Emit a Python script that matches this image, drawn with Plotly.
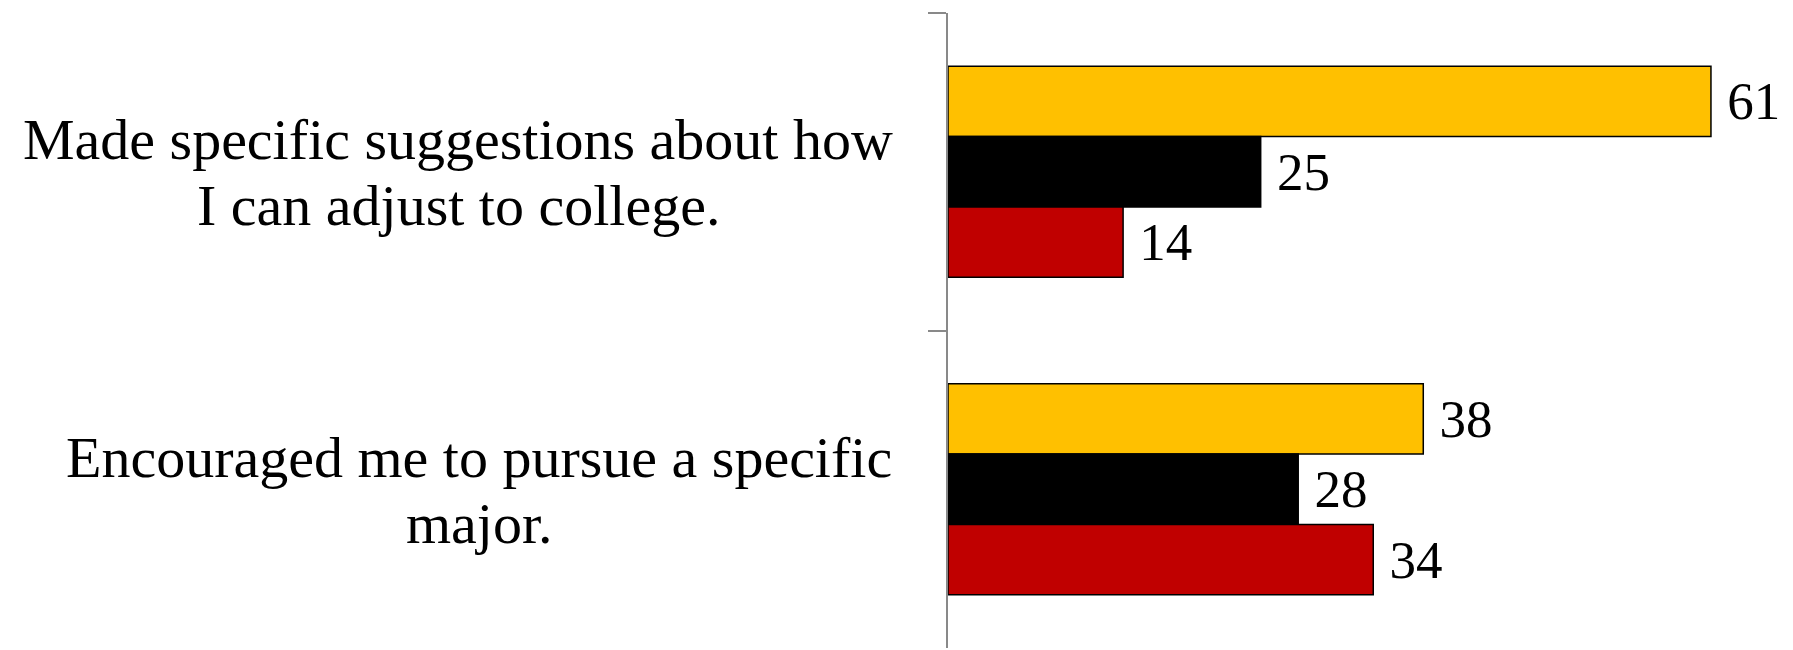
import plotly.graph_objects as go

categories = ["Made specific suggestions about how I can adjust to college.",
              "Encouraged me to pursue a specific major."]
category_lines = [["Made specific suggestions about how", "I can adjust to college."],
                  ["Encouraged me to pursue a specific", "major."]]
series_names = ["Series 1", "Series 2", "Series 3"]
series_values = [[61, 38], [25, 28], [14, 34]]
series_colors = ["#FFC000", "#000000", "#C00000"]

# horizontal centre of each category's label block, relative to the plot's left edge (px)
label_centre_shift = [-490, -469]

FONT = "Liberation Serif, Times New Roman, serif"
fig = go.Figure()
for name, vals, col in zip(series_names, series_values, series_colors):
    fig.add_trace(go.Bar(
        y=categories, x=vals, name=name, orientation="h",
        marker=dict(color=col, line=dict(color="#000000", width=1.5)),
        text=["\u00a0" + str(v) for v in vals], textposition="outside",
        textfont=dict(family=FONT, size=53, color="#000000"),
        cliponaxis=False,
    ))

for c, lines, xs in zip(categories, category_lines, label_centre_shift):
    for i, line in enumerate(lines):
        fig.add_annotation(x=0, xref="paper", y=c, yref="y", text=line, showarrow=False,
                           xanchor="center", yanchor="middle", align="center",
                           xshift=xs, yshift=32 - 66 * i,
                           font=dict(family=FONT, size=58, color="#000000"))

fig.update_layout(
    width=1785, height=642, barmode="group", bargap=0.335, bargroupgap=0,
    showlegend=False, plot_bgcolor="white", paper_bgcolor="white",
    margin=dict(l=940, r=7, t=5, b=2),
    xaxis=dict(range=[0, 67], visible=False, showgrid=False, zeroline=False),
    yaxis=dict(autorange="reversed", showticklabels=False, showgrid=False, zeroline=False,
               showline=True, linecolor="#898989", linewidth=2,
               ticks="outside", ticklen=18, tickwidth=2, tickcolor="#898989",
               tickson="boundaries"),
)
fig.write_html("out.html")
